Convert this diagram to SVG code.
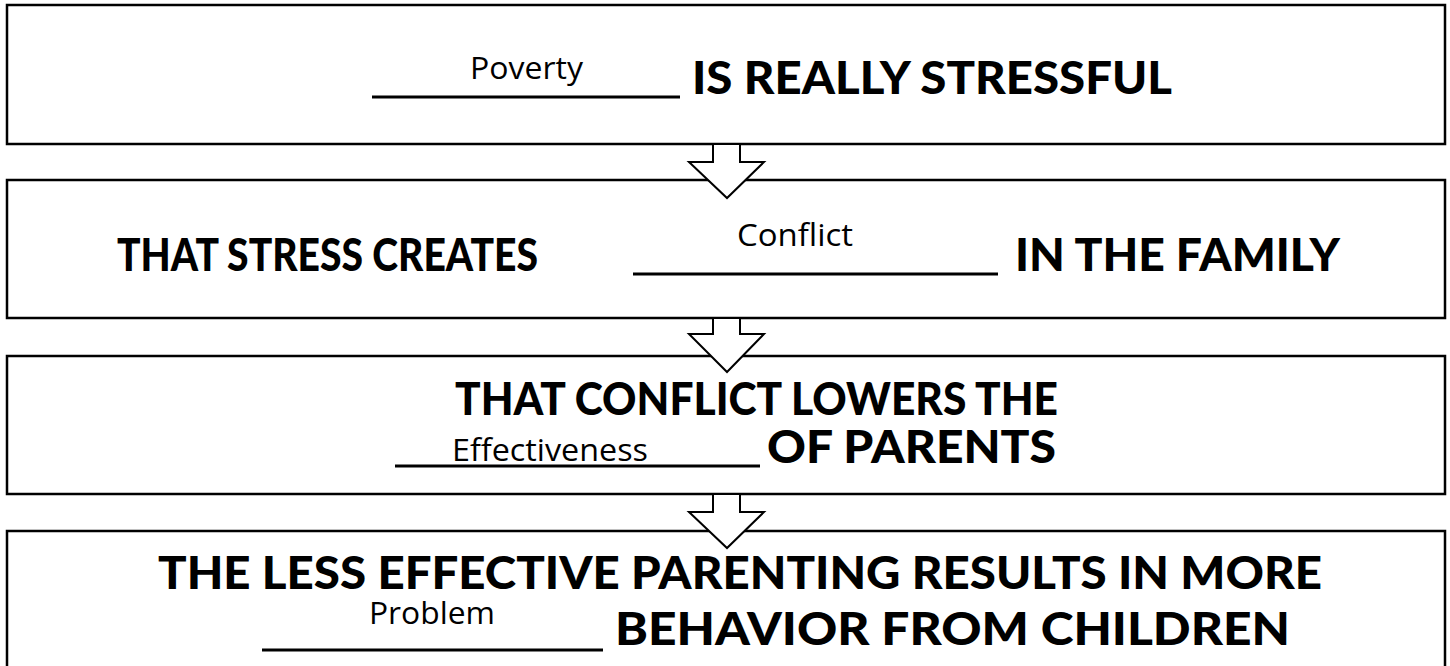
<svg xmlns="http://www.w3.org/2000/svg" width="1450" height="666" viewBox="0 0 1450 666">
<style>
.box{fill:#fff;stroke:#000;stroke-width:2.5}
.arrow{fill:#fff;stroke:#000;stroke-width:2;stroke-linejoin:miter}
.big{font-family:Lato,"Liberation Sans",sans-serif;font-weight:900;font-size:46px;fill:#000}
.ans{font-family:"Open Sans","Liberation Sans",sans-serif;font-size:31px;fill:#000}
.ul{stroke:#000;stroke-width:3}
</style>
<rect width="1450" height="666" fill="#fff"/>
<g id="node1">
<rect class="box" x="7" y="5" width="1438" height="139"/>
<line class="ul" x1="372" y1="97" x2="680" y2="97"/>
<text class="ans" x="470" y="79" textLength="113" lengthAdjust="spacingAndGlyphs">Poverty</text>
<text class="big" x="692" y="94" textLength="480" lengthAdjust="spacingAndGlyphs">IS REALLY STRESSFUL</text>
</g>
<g id="node2">
<rect class="box" x="7" y="180" width="1438" height="138"/>
<text class="big" x="117" y="271" textLength="421" lengthAdjust="spacingAndGlyphs">THAT STRESS CREATES</text>
<line class="ul" x1="633" y1="274" x2="998" y2="274"/>
<text class="ans" x="737" y="246" textLength="116" lengthAdjust="spacingAndGlyphs">Conflict</text>
<text class="big" x="1015" y="271" textLength="325" lengthAdjust="spacingAndGlyphs">IN THE FAMILY</text>
</g>
<g id="node3">
<rect class="box" x="7" y="356" width="1438" height="138"/>
<text class="big" x="455" y="415" textLength="603" lengthAdjust="spacingAndGlyphs">THAT CONFLICT LOWERS THE</text>
<line class="ul" x1="395" y1="466" x2="760" y2="466"/>
<text class="ans" x="452" y="461" textLength="196" lengthAdjust="spacingAndGlyphs">Effectiveness</text>
<text class="big" x="767" y="463" textLength="289" lengthAdjust="spacingAndGlyphs">OF PARENTS</text>
</g>
<g id="node4">
<rect class="box" x="7" y="531" width="1438" height="145"/>
<text class="big" x="158" y="589" textLength="1164" lengthAdjust="spacingAndGlyphs">THE LESS EFFECTIVE PARENTING RESULTS IN MORE</text>
<line class="ul" x1="262" y1="650" x2="603" y2="650"/>
<text class="ans" x="369" y="624" textLength="126" lengthAdjust="spacingAndGlyphs">Problem</text>
<text class="big" x="615" y="645" textLength="675" lengthAdjust="spacingAndGlyphs">BEHAVIOR FROM CHILDREN</text>
</g>
<g id="connectors">
<polygon class="arrow" points="713,144 740,144 740,162 764,162 727,198 689,162 713,162"/>
<polygon class="arrow" points="713,318 740,318 740,334 764,334 727,372 689,334 713,334"/>
<polygon class="arrow" points="713,494 740,494 740,512 764,512 727,548 689,512 713,512"/>
</g>
</svg>
